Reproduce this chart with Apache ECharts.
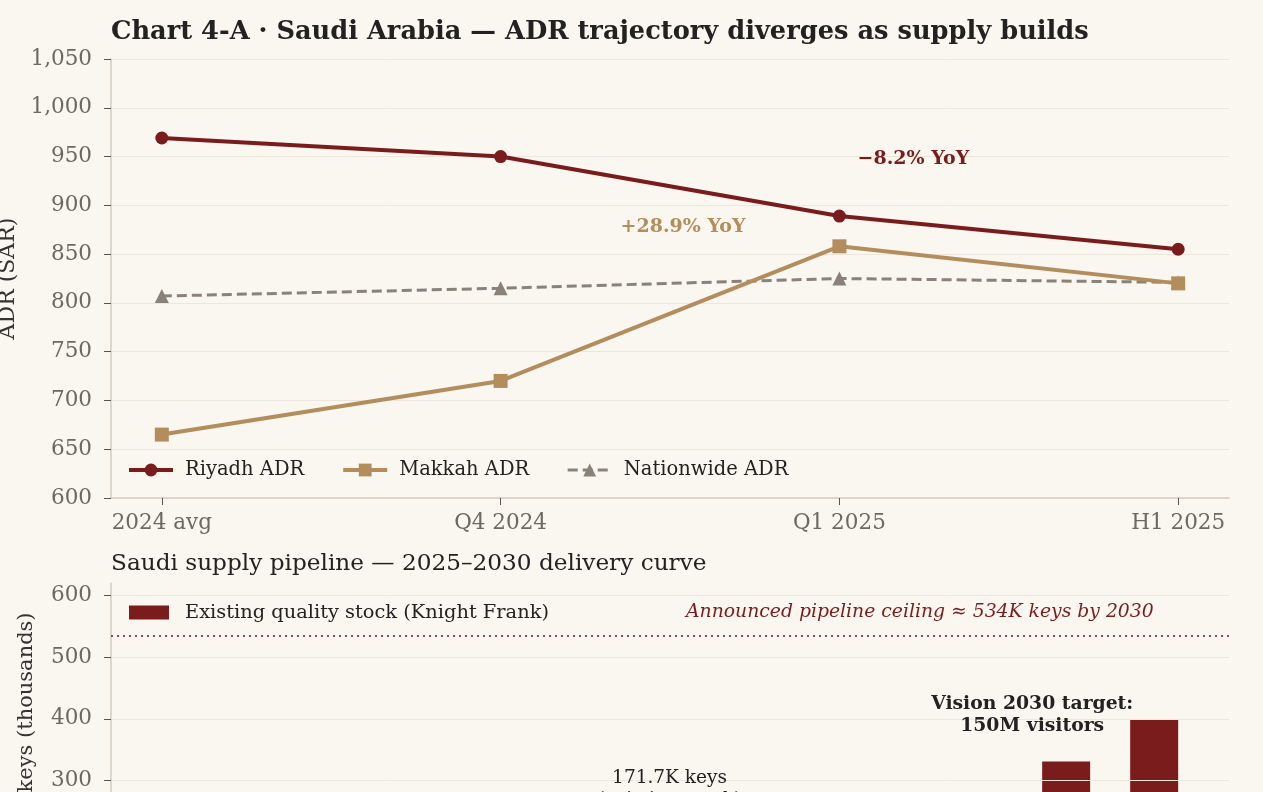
<!DOCTYPE html>
<html>
<head>
<meta charset="utf-8">
<title>Chart 4-A · Saudi Arabia</title>
<script src="https://cdn.jsdelivr.net/npm/echarts@6.0.0/dist/echarts.min.js"></script>
<style>
  html, body { margin: 0; padding: 0; overflow: hidden; background: #FAF6F0; }
  #chart { width: 1263px; height: 1040px; }
</style>
</head>
<body>
<div id="chart"></div>
<script>
// ADR panel data
const periods = ['2024 avg', 'Q4 2024', 'Q1 2025', 'H1 2025'];
const riyadhAdr = [969, 950, 889, 855];
const makkahAdr = [665, 720, 858, 820];
const nationwideAdr = [807, 815, 825, 821];
const adrNotes = ['+28.9% YoY', '\u22128.2% YoY'];
const adrNoteX = [1.54, 2.22];
const adrNoteY = [877, 947];

// Supply pipeline panel data
const pipelineYears = [2019, 2020, 2021, 2022, 2023, 2024, 2025, 2026, 2027, 2028, 2029, 2030];
const pipelineKeys = [112, 121, 130, 142, 158, 171.7, 192, 214, 240, 268, 331, 400];
const pipelineCeiling = 534;
const supplyNotes = ['Announced pipeline ceiling \u2248 534K keys by 2030', 'Vision 2030 target:\n150M visitors', '171.7K keys\n(existing stock)'];
const supplyNoteX = [2030, 2028.62, 2024.5];
const supplyNoteY = [572, 405, 286];

const FONT = 'DejaVu Serif';
const RED = '#7B1C1C';
const TAN = '#B38D5C';
const GREY = '#8A8178';
const GRID = '#ECE6DC';
const SPINE = '#D6CDBF';
const TICK = '#6E6862';

const chart = echarts.init(document.getElementById('chart'));

function yAxisBase(extra) {
    return Object.assign({
        type: 'value',
        axisLine: { show: true, onZero: false, lineStyle: { color: SPINE, width: 1.5 } },
        axisTick: { show: true, length: 7, lineStyle: { color: '#555' } },
        splitLine: { show: true, lineStyle: { color: GRID, width: 1 } },
        nameLocation: 'middle',
        nameTextStyle: { color: '#333', fontFamily: FONT, fontSize: 22 }
    }, extra);
}

function noteLabel(extra) {
    return Object.assign({
        show: true, position: [0, 0], align: 'center', verticalAlign: 'middle',
        formatter: '{b}', fontFamily: FONT
    }, extra);
}

const option = {
    animation: false,
    backgroundColor: '#FAF6F0',
    title: [
        {
            text: 'Chart 4-A \u00b7 Saudi Arabia \u2014 ADR trajectory diverges as supply builds',
            left: 106, top: 14,
            textStyle: { fontFamily: FONT, fontSize: 25.7, fontWeight: 'bold', color: '#222' }
        },
        {
            text: 'Saudi supply pipeline \u2014 2025\u20132030 delivery curve',
            left: 106, top: 547,
            textStyle: { fontFamily: FONT, fontSize: 23.2, fontWeight: 'normal', color: '#222' }
        }
    ],
    legend: [
        {
            left: 122, top: 455,
            itemWidth: 44, itemHeight: 16, itemGap: 37,
            data: [
                { name: 'Riyadh ADR', lineStyle: { width: 4 } },
                { name: 'Makkah ADR', lineStyle: { width: 4 } },
                { name: 'Nationwide ADR', lineStyle: { width: 3 } }
            ],
            textStyle: { fontFamily: FONT, fontSize: 19.5, color: '#222', padding: [0, 0, 0, 7] }
        },
        {
            left: 124, top: 598,
            itemWidth: 40, itemHeight: 14,
            icon: 'rect',
            data: ['Existing quality stock (Knight Frank)'],
            textStyle: { fontFamily: FONT, fontSize: 19.4, color: '#222', padding: [0, 0, 0, 11] }
        }
    ],
    grid: [
        { left: 111, right: 34, top: 59, height: 439, outerBoundsMode: 'none' },
        { left: 111, right: 34, top: 583, height: 383, outerBoundsMode: 'none' }
    ],
    xAxis: [
        {
            gridIndex: 0, type: 'value', min: -0.15, max: 3.15,
            axisLine: { show: true, onZero: false, lineStyle: { color: SPINE, width: 1.5 } },
            axisTick: { show: true, length: 7, customValues: [0, 1, 2, 3], lineStyle: { color: '#555' } },
            axisLabel: {
                customValues: [0, 1, 2, 3], color: TICK, fontFamily: FONT, fontSize: 21.5, margin: 14,
                formatter: v => periods[Math.round(v)]
            },
            splitLine: { show: false }
        },
        {
            gridIndex: 1, type: 'value', min: 2018.15, max: 2030.85,
            axisLine: { show: true, onZero: false, lineStyle: { color: SPINE, width: 1.5 } },
            axisTick: { show: true, length: 7, customValues: pipelineYears, lineStyle: { color: '#555' } },
            axisLabel: {
                customValues: pipelineYears, color: TICK, fontFamily: FONT, fontSize: 21.5, margin: 14,
                formatter: v => String(v)
            },
            splitLine: { show: false }
        }
    ],
    yAxis: [
        yAxisBase({
            gridIndex: 0, min: 600, max: 1050, interval: 50,
            name: 'ADR (SAR)', nameGap: 91,
            axisLabel: { color: TICK, fontFamily: FONT, fontSize: 21.5, margin: 19,
                formatter: v => v.toLocaleString('en-US') }
        }),
        yAxisBase({
            gridIndex: 1, min: 0, max: 620, interval: 100,
            name: 'Quality hotel keys (thousands)', nameGap: 74,
            nameTextStyle: { color: '#333', fontFamily: FONT, fontSize: 21 },
            splitLine: { show: true, showMaxLine: false, lineStyle: { color: GRID, width: 1 } },
            axisLabel: { color: TICK, fontFamily: FONT, fontSize: 21.5, margin: 19, showMaxLabel: false }
        })
    ],
    series: [
        {
            name: 'Riyadh ADR', type: 'line', xAxisIndex: 0, yAxisIndex: 0,
            data: riyadhAdr.map((v, i) => [i, v]),
            symbol: 'circle', symbolSize: 13,
            lineStyle: { color: RED, width: 4 }, itemStyle: { color: RED }, z: 4
        },
        {
            name: 'Makkah ADR', type: 'line', xAxisIndex: 0, yAxisIndex: 0,
            data: makkahAdr.map((v, i) => [i, v]),
            symbol: 'rect', symbolSize: 14,
            lineStyle: { color: TAN, width: 4 }, itemStyle: { color: TAN }, z: 3
        },
        {
            name: 'Nationwide ADR', type: 'line', xAxisIndex: 0, yAxisIndex: 0,
            data: nationwideAdr.map((v, i) => [i, v]),
            symbol: 'triangle', symbolSize: 14,
            lineStyle: { color: GREY, width: 3, type: [10, 5] }, itemStyle: { color: GREY }, z: 2
        },
        {
            name: 'adr-notes', type: 'scatter', xAxisIndex: 0, yAxisIndex: 0,
            symbolSize: 1, itemStyle: { color: 'rgba(0,0,0,0)', opacity: 1 }, silent: true,
            data: adrNotes.map((t, i) => ({
                name: t, value: [adrNoteX[i], adrNoteY[i]],
                label: { color: i === 0 ? TAN : RED }
            })),
            label: noteLabel({ fontSize: 19, fontWeight: 'bold' })
        },
        {
            name: 'Existing quality stock (Knight Frank)', type: 'bar', xAxisIndex: 1, yAxisIndex: 1,
            data: pipelineYears.map((y, i) => [y, pipelineKeys[i]]),
            barWidth: 48, itemStyle: { color: RED }, z: -1,
            markLine: {
                silent: true, symbol: 'none', label: { show: false },
                lineStyle: { color: '#8E4651', width: 2, type: [2, 4] },
                data: [{ yAxis: pipelineCeiling }]
            }
        },
        {
            name: 'supply-notes', type: 'scatter', xAxisIndex: 1, yAxisIndex: 1,
            symbolSize: 1, itemStyle: { color: 'rgba(0,0,0,0)', opacity: 1 }, silent: true,
            data: supplyNotes.map((t, i) => {
                const item = { name: t, value: [supplyNoteX[i], supplyNoteY[i]] };
                if (i === 0) item.label = { align: 'right', fontStyle: 'italic', color: RED, fontSize: 18.8 };
                if (i === 1) item.label = { fontWeight: 'bold', fontSize: 18.8 };
                return item;
            }),
            label: noteLabel({ fontSize: 18.5, color: '#222', lineHeight: 22 })
        }
    ]
};
chart.setOption(option);
</script>
</body>
</html>
